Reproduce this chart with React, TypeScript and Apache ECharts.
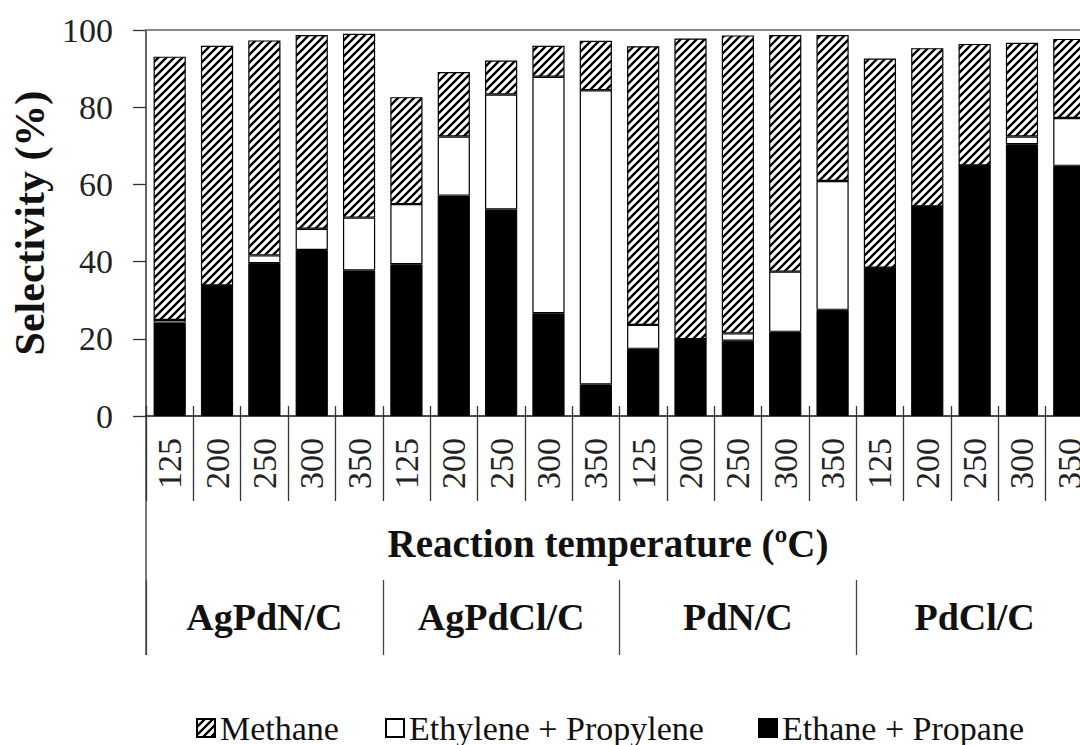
import React, { useEffect, useRef } from "react";
import * as echarts from "echarts";

// Catalysts and reaction temperatures (°C) along the x axis
const catalysts = ["AgPdN/C", "AgPdCl/C", "PdN/C", "PdCl/C"];
const temperatures = ["125", "200", "250", "300", "350"];

// Selectivity (%) per catalyst/temperature, stacked bottom to top
const ethanePropane = [
  24.2, 33.8, 39.6, 43.0, 37.7,
  39.3, 57.1, 53.5, 26.6, 8.2,
  17.4, 19.9, 19.5, 21.8, 27.5,
  38.4, 54.3, 64.9, 70.4, 64.8,
];
const ethylenePropylene = [
  0.7, 0, 2.0, 5.5, 13.7,
  15.6, 15.3, 29.8, 61.3, 76.2,
  6.2, 0, 1.9, 15.6, 33.4,
  0, 0, 0, 2.0, 12.4,
];
const methane = [
  68.2, 62.1, 55.7, 50.2, 47.6,
  27.7, 16.7, 8.8, 8.0, 12.8,
  72.2, 77.9, 77.2, 61.3, 37.8,
  54.2, 41.0, 31.5, 24.3, 20.5,
];

const yTicks = { min: 0, max: 100, interval: 20 };

const FONT = "Liberation Serif";
const GRID_LEFT = 146;
const GRID_TOP = 30;
const GRID_WIDTH = 947;
const GRID_HEIGHT = 386;

// Diagonal "/" hatch tile used for the methane segments
function makeHatch(): HTMLCanvasElement {
  const s = 8;
  const c = document.createElement("canvas");
  c.width = s;
  c.height = s;
  const ctx = c.getContext("2d")!;
  ctx.fillStyle = "#fff";
  ctx.fillRect(0, 0, s, s);
  ctx.strokeStyle = "#000";
  ctx.lineWidth = 2.3;
  ctx.beginPath();
  ctx.moveTo(-2, s + 2);
  ctx.lineTo(s + 2, -2);
  ctx.moveTo(-2, 2);
  ctx.lineTo(2, -2);
  ctx.moveTo(s - 2, s + 2);
  ctx.lineTo(s + 2, s - 2);
  ctx.stroke();
  return c;
}

export default function App() {
  const ref = useRef<HTMLDivElement>(null);

  useEffect(() => {
    if (!ref.current) return;
    const chart = echarts.init(ref.current, null, { renderer: "svg" });
    const categories = catalysts.flatMap(() => temperatures);
    const hatch = {
      image: makeHatch(),
      repeat: "repeat",
      imageWidth: 8,
      imageHeight: 8,
    };

    const barBase = {
      type: "bar",
      stack: "total",
      barWidth: "68%",
      xAxisIndex: 0,
      yAxisIndex: 0,
    };

    const legendBase = {
      orient: "horizontal",
      top: 708,
      padding: 0,
      itemWidth: 18,
      itemHeight: 18,
      icon: "rect",
      selectedMode: false,
      textStyle: { fontFamily: FONT, fontSize: 34, color: "#111", lineHeight: 40 },
    };

    chart.setOption({
      animation: false,
      backgroundColor: "#fff",
      textStyle: { fontFamily: FONT },
      grid: { left: GRID_LEFT, top: GRID_TOP, width: GRID_WIDTH, height: GRID_HEIGHT },
      legend: [
        { ...legendBase, left: 196, data: ["Methane"] },
        { ...legendBase, left: 385, data: ["Ethylene + Propylene"] },
        { ...legendBase, left: 758, data: ["Ethane + Propane"] },
      ],
      xAxis: [
        {
          // temperature labels with long boundary ticks
          type: "category",
          position: "bottom",
          data: categories,
          axisLine: { onZero: false, lineStyle: { color: "#111", width: 1.5 } },
          axisTick: {
            show: true,
            inside: false,
            length: 85,
            interval: 0,
            alignWithLabel: false,
            lineStyle: { color: "#333", width: 1.3 },
          },
          axisLabel: {
            interval: 0,
            rotate: 90,
            margin: 22,
            fontFamily: FONT,
            fontSize: 34,
            color: "#222",
          },
        },
        {
          // short ticks poking into the plot area
          type: "category",
          position: "bottom",
          data: categories,
          axisLine: { show: false, onZero: false },
          axisTick: {
            show: true,
            inside: true,
            length: 10,
            interval: 0,
            lineStyle: { color: "#333", width: 1.3 },
          },
          axisLabel: { show: false },
        },
        {
          // catalyst groups below the axis title
          type: "category",
          position: "bottom",
          offset: 164,
          data: catalysts,
          axisLine: { show: false, onZero: false },
          axisTick: {
            show: true,
            inside: false,
            length: 75,
            interval: 0,
            lineStyle: { color: "#444", width: 1.3 },
          },
          axisLabel: {
            interval: 0,
            margin: 18,
            fontFamily: FONT,
            fontSize: 38,
            fontWeight: "bold",
            color: "#111",
          },
        },
        {
          // top border of the plot area
          type: "category",
          position: "top",
          data: categories,
          axisLine: { show: true, onZero: false, lineStyle: { color: "#888", width: 2 } },
          axisTick: { show: false },
          axisLabel: { show: false },
        },
      ],
      yAxis: {
        type: "value",
        min: yTicks.min,
        max: yTicks.max,
        interval: yTicks.interval,
        name: "Selectivity (%)",
        nameLocation: "middle",
        nameGap: 92,
        nameTextStyle: {
          fontFamily: FONT,
          fontSize: 42,
          fontWeight: "bold",
          color: "#111",
        },
        splitLine: { show: false },
        axisLine: { show: true, lineStyle: { color: "#333", width: 1.5 } },
        axisTick: { show: true, inside: false, length: 13, lineStyle: { color: "#333", width: 1.3 } },
        axisLabel: { margin: 33, fontFamily: FONT, fontSize: 34, color: "#222" },
      },
      graphic: [
        {
          type: "line",
          shape: { x1: GRID_LEFT, y1: GRID_TOP + GRID_HEIGHT, x2: GRID_LEFT, y2: 655 },
          style: { stroke: "#333", lineWidth: 1.3 },
        },
        {
          type: "text",
          x: 608,
          y: 543,
          style: {
            text: "Reaction temperature (ºC)",
            fontFamily: FONT,
            fontSize: 39,
            fontWeight: "bold",
            fill: "#111",
            textAlign: "center",
            textVerticalAlign: "middle",
          },
        },
      ],
      series: [
        {
          ...barBase,
          name: "Ethane + Propane",
          data: ethanePropane,
          itemStyle: { color: "#000", borderColor: "#000", borderWidth: 1 },
        },
        {
          ...barBase,
          name: "Ethylene + Propylene",
          data: ethylenePropylene,
          itemStyle: { color: "#fff", borderColor: "#000", borderWidth: 1.2 },
        },
        {
          ...barBase,
          name: "Methane",
          data: methane,
          itemStyle: { color: hatch, borderColor: "#000", borderWidth: 1.2 },
        },
      ],
    });

    return () => chart.dispose();
  }, []);

  // The chart runs slightly past the right edge of the window, so the
  // last category is clipped by the viewport.
  return (
    <div
      ref={ref}
      style={{ position: "fixed", left: 0, top: 0, width: 1110, height: 745, background: "#fff" }}
    />
  );
}
